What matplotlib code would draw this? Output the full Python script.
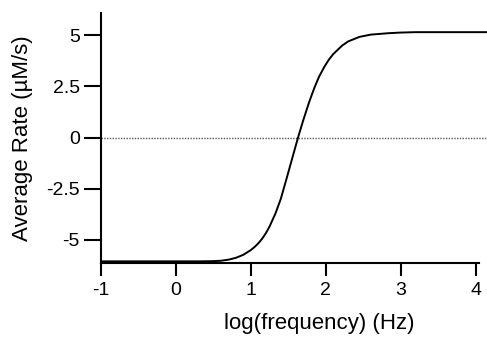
import matplotlib
matplotlib.use("Agg")
import matplotlib.pyplot as plt

plt.rcParams["font.family"] = ["Liberation Sans", "DejaVu Sans"]

# values
log_freq = [-1.0, 0.0, 0.3, 0.5, 0.6, 0.7, 0.8, 0.9, 1.0, 1.05, 1.1, 1.15,
            1.2, 1.25, 1.33, 1.4, 1.47, 1.55, 1.63, 1.7, 1.78, 1.85, 1.91,
            1.98, 2.04, 2.1, 2.22, 2.3, 2.45, 2.6, 2.84, 3.0, 3.2, 4.15]
avg_rate = [-6.05, -6.05, -6.05, -6.04, -6.02, -5.97, -5.88, -5.73, -5.5,
            -5.35, -5.17, -4.95, -4.68, -4.35, -3.7, -3.0, -2.1, -1.05, 0.0,
            0.85, 1.75, 2.45, 2.97, 3.45, 3.8, 4.08, 4.5, 4.7, 4.92, 5.03,
            5.1, 5.13, 5.15, 5.15]

x_ticks = [-1, 0, 1, 2, 3, 4]
y_ticks = [-5, -2.5, 0, 2.5, 5]
y_ticklabels = ["-5", "-2.5", "0", "2.5", "5"]

fig = plt.figure(figsize=(4.87, 3.4), dpi=100)
ax = fig.add_axes([0.207, 0.2265, 0.793, 0.7355])

ax.axhline(0, color="#555555", linewidth=1.0, linestyle=(0, (1, 1)))
ax.plot(log_freq, avg_rate, color="black", linewidth=1.4)

ax.set_xlim(-1, 4.15)
ax.set_ylim(-6.13, 6.09)

for side in ["top", "right"]:
    ax.spines[side].set_visible(False)
for side in ["left", "bottom"]:
    ax.spines[side].set_linewidth(1.5)
ax.spines["bottom"].set_bounds(-1, 4.04)

ax.set_xticks(x_ticks)
ax.set_xticklabels([str(v) for v in x_ticks])
ax.set_yticks(y_ticks)
ax.set_yticklabels(y_ticklabels)
ax.tick_params(axis="y", length=12, width=1.5, labelsize=14, pad=3)
ax.tick_params(axis="x", length=9, width=1.5, labelsize=14, pad=5)

ax.set_xlabel("log(frequency) (Hz)", fontsize=16)
ax.set_ylabel("Average Rate (µM/s)", fontsize=16)
ax.xaxis.set_label_coords(0.565, -0.2)
ax.yaxis.set_label_coords(-0.175, 0.5)

fig.savefig("out.png", dpi=100)
